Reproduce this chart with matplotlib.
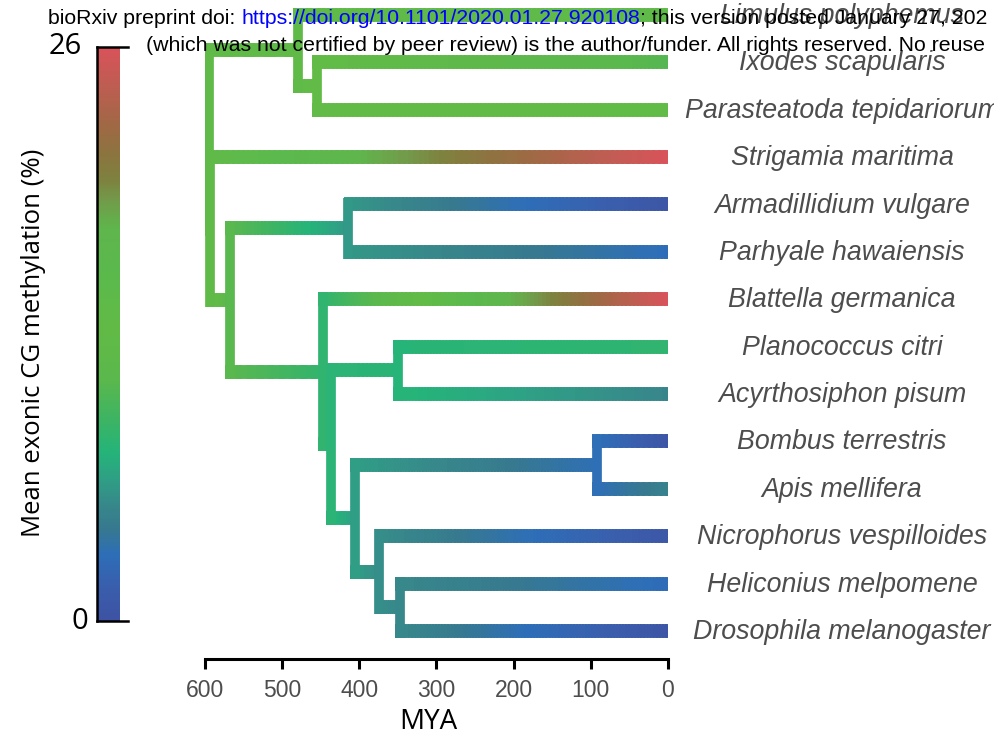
import numpy as np
import matplotlib.pyplot as plt
import matplotlib.transforms as mtransforms
from matplotlib.colors import LinearSegmentedColormap, Normalize
from matplotlib.collections import LineCollection

# tips, top to bottom, with mean exonic CG methylation (%)
tips = ['Limulus polyphemus', 'Ixodes scapularis', 'Parasteatoda tepidariorum',
        'Strigamia maritima', 'Armadillidium vulgare', 'Parhyale hawaiensis',
        'Blattella germanica', 'Planococcus citri', 'Acyrthosiphon pisum',
        'Bombus terrestris', 'Apis mellifera', 'Nicrophorus vespilloides',
        'Heliconius melpomene', 'Drosophila melanogaster']
tip_meth = [14.5, 10.5, 13.5, 26, 0.4, 2.8, 26, 8.3, 5.0, 0.3, 4.8, 0.6, 2.7, 0.3]

# internal nodes: age (MYA) and reconstructed methylation
nodes = ['root', 'Chelicerata', 'Arachnida', 'Mandibulata', 'Pancrustacea',
         'Peracarida', 'Hexapoda', 'Eumetabola', 'Hemiptera', 'Holometabola',
         'Hymenoptera', 'Aparaglossata', 'Mecopterida']
node_age = [595, 480, 455, 593, 568, 414, 447, 437, 350, 406, 92, 374, 347]
node_meth = [14, 14, 13, 14, 10.8, 6.0, 8.4, 8.0, 7.8, 6.3, 3.0, 5.5, 5.2]

edges = [('root', 'Chelicerata'), ('root', 'Mandibulata'),
         ('Chelicerata', 'Limulus polyphemus'), ('Chelicerata', 'Arachnida'),
         ('Arachnida', 'Ixodes scapularis'), ('Arachnida', 'Parasteatoda tepidariorum'),
         ('Mandibulata', 'Strigamia maritima'), ('Mandibulata', 'Pancrustacea'),
         ('Pancrustacea', 'Peracarida'), ('Pancrustacea', 'Hexapoda'),
         ('Peracarida', 'Armadillidium vulgare'), ('Peracarida', 'Parhyale hawaiensis'),
         ('Hexapoda', 'Blattella germanica'), ('Hexapoda', 'Eumetabola'),
         ('Eumetabola', 'Hemiptera'), ('Eumetabola', 'Holometabola'),
         ('Hemiptera', 'Planococcus citri'), ('Hemiptera', 'Acyrthosiphon pisum'),
         ('Holometabola', 'Hymenoptera'), ('Holometabola', 'Aparaglossata'),
         ('Hymenoptera', 'Bombus terrestris'), ('Hymenoptera', 'Apis mellifera'),
         ('Aparaglossata', 'Nicrophorus vespilloides'), ('Aparaglossata', 'Mecopterida'),
         ('Mecopterida', 'Heliconius melpomene'), ('Mecopterida', 'Drosophila melanogaster')]

# colour scale
scale_vals = [0, 1.4, 2.9, 4.1, 5.2, 6.4, 7.6, 9.0, 10.9, 13.2, 15.8, 17.8, 19.1, 20.0,
              21.3, 22.6, 24.0, 26]
scale_cols = ['#3e53a4', '#3a5eac', '#2e6eb8', '#377990', '#37888a', '#2fa085', '#25b47a',
              '#3cb465', '#5bb84d', '#62bb46', '#5bb94d', '#5fb64d', '#739a4a', '#7e823f',
              '#8e7340', '#a26846', '#ba5f51', '#d9535a']
vmax = 26
cmap = LinearSegmentedColormap.from_list('meth', list(zip(np.array(scale_vals) / vmax, scale_cols)))
norm = Normalize(0, vmax)

# layout of the tree
age = dict(zip(nodes, node_age))
meth = dict(zip(nodes, node_meth))
ypos = {}
for i, t in enumerate(tips):
    age[t] = 0
    meth[t] = tip_meth[i]
    ypos[t] = len(tips) - i
children = {}
for p, c in edges:
    children.setdefault(p, []).append(c)


def get_y(n):
    if n not in ypos:
        ypos[n] = np.mean([get_y(c) for c in children[n]])
    return ypos[n]


get_y('root')

fig = plt.figure(figsize=(9.94, 7.4), dpi=100)
ax = fig.add_axes([0.2062, 0.1095, 0.4658, 0.8838])
ax.set_xlim(600, 0)
ax.set_ylim(0.41, 14.21)

hh = 0.145   # half thickness of horizontal branches (y units)
hv = 6.2     # half thickness of vertical branches (MYA)
lw_h = 10.0
lw_v = 7.0

# horizontal branches with colour gradient
segs, cols = [], []
for p, c in edges:
    xs = np.linspace(age[p] + hv, age[c], 90)
    step = xs[1] - xs[0]
    vals = np.interp(xs, [age[c], age[p]], [meth[c], meth[p]])
    for k in range(len(xs) - 1):
        xe = xs[k + 1] if k == len(xs) - 2 else xs[k + 1] + 0.6 * step
        segs.append([(xs[k], ypos[c]), (xe, ypos[c])])
        cols.append(cmap(norm(vals[k])))
ax.add_collection(LineCollection(segs, colors=cols, linewidths=lw_h, capstyle='butt', zorder=2))

# vertical branches in the parent colour
vsegs, vcols = [], []
for p, c in edges:
    yc = ypos[c] + (hh if ypos[c] > ypos[p] else -hh)
    vsegs.append([(age[p], ypos[p]), (age[p], yc)])
    vcols.append(cmap(norm(meth[p])))
ax.add_collection(LineCollection(vsegs, colors=vcols, linewidths=lw_v, capstyle='butt', zorder=3))

# tip labels
trans = mtransforms.blended_transform_factory(ax.transAxes, ax.transData)
for t in tips:
    ax.text(1.376, ypos[t] - 0.17, t, transform=trans, ha='center', va='baseline',
            fontsize=19.3, style='italic', color='#4d4d4d', family='Liberation Sans',
            clip_on=False)

for s in ['top', 'right', 'left']:
    ax.spines[s].set_visible(False)
ax.spines['bottom'].set_linewidth(2.2)
ax.spines['bottom'].set_capstyle('projecting')
ax.set_yticks([])
ax.set_xticks([600, 500, 400, 300, 200, 100, 0])
ax.tick_params(axis='x', length=7.2, width=2.2, pad=7, labelsize=16.5, labelcolor='#4d4d4d')
for lab in ax.get_xticklabels():
    lab.set_family('Liberation Sans')
ax.set_xlabel('MYA', fontsize=20, family='Open Sans')
ax.xaxis.set_label_coords(0.482, -0.075)

# colour bar
cax = fig.add_axes([0.0986, 0.1608, 0.0221, 0.7757])
grad = np.linspace(0, vmax, 300)[:, None]
cax.imshow(grad, aspect='auto', cmap=cmap, norm=norm, origin='lower', extent=[0, 1, 0, vmax])
cax.set_xlim(0, 1)
cax.set_ylim(0, vmax)
cax.axis('off')
cax.plot([-0.05, -0.05], [0, vmax], color='black', lw=1.8, clip_on=False, solid_capstyle='projecting')
for v in [0, vmax]:
    cax.plot([-0.05, 1.35], [v, v], color='black', lw=1.8, clip_on=False)
cax.text(-0.72, vmax, '26', ha='right', va='center', fontsize=21, family='Open Sans')
cax.text(-0.45, 0, '0', ha='right', va='center', fontsize=21, family='Open Sans')
fig.text(0.034, 0.5365, 'Mean exonic CG methylation (%)', rotation=90, ha='center',
         va='center', fontsize=18.5, family='Open Sans')

# preprint header
hdr = dict(fontsize=15.3, family='Liberation Sans', zorder=10)
t1 = fig.text(0.0483, 0.9745, 'bioRxiv preprint doi: ', va='center', **hdr)
ann2 = ax.annotate('https://doi.org/10.1101/2020.01.27.920108', xy=(1, 0), xycoords=t1,
                   va='bottom', ha='left', color='blue', annotation_clip=False, **hdr)
ax.annotate('; this version posted January 27, 202', xy=(1, 0), xycoords=ann2,
            va='bottom', ha='left', annotation_clip=False, **hdr)
fig.text(0.1469, 0.9385, '(which was not certified by peer review) is the author/funder. '
         'All rights reserved. No reuse', va='center', **hdr)

fig.savefig('out.png', dpi=100)
